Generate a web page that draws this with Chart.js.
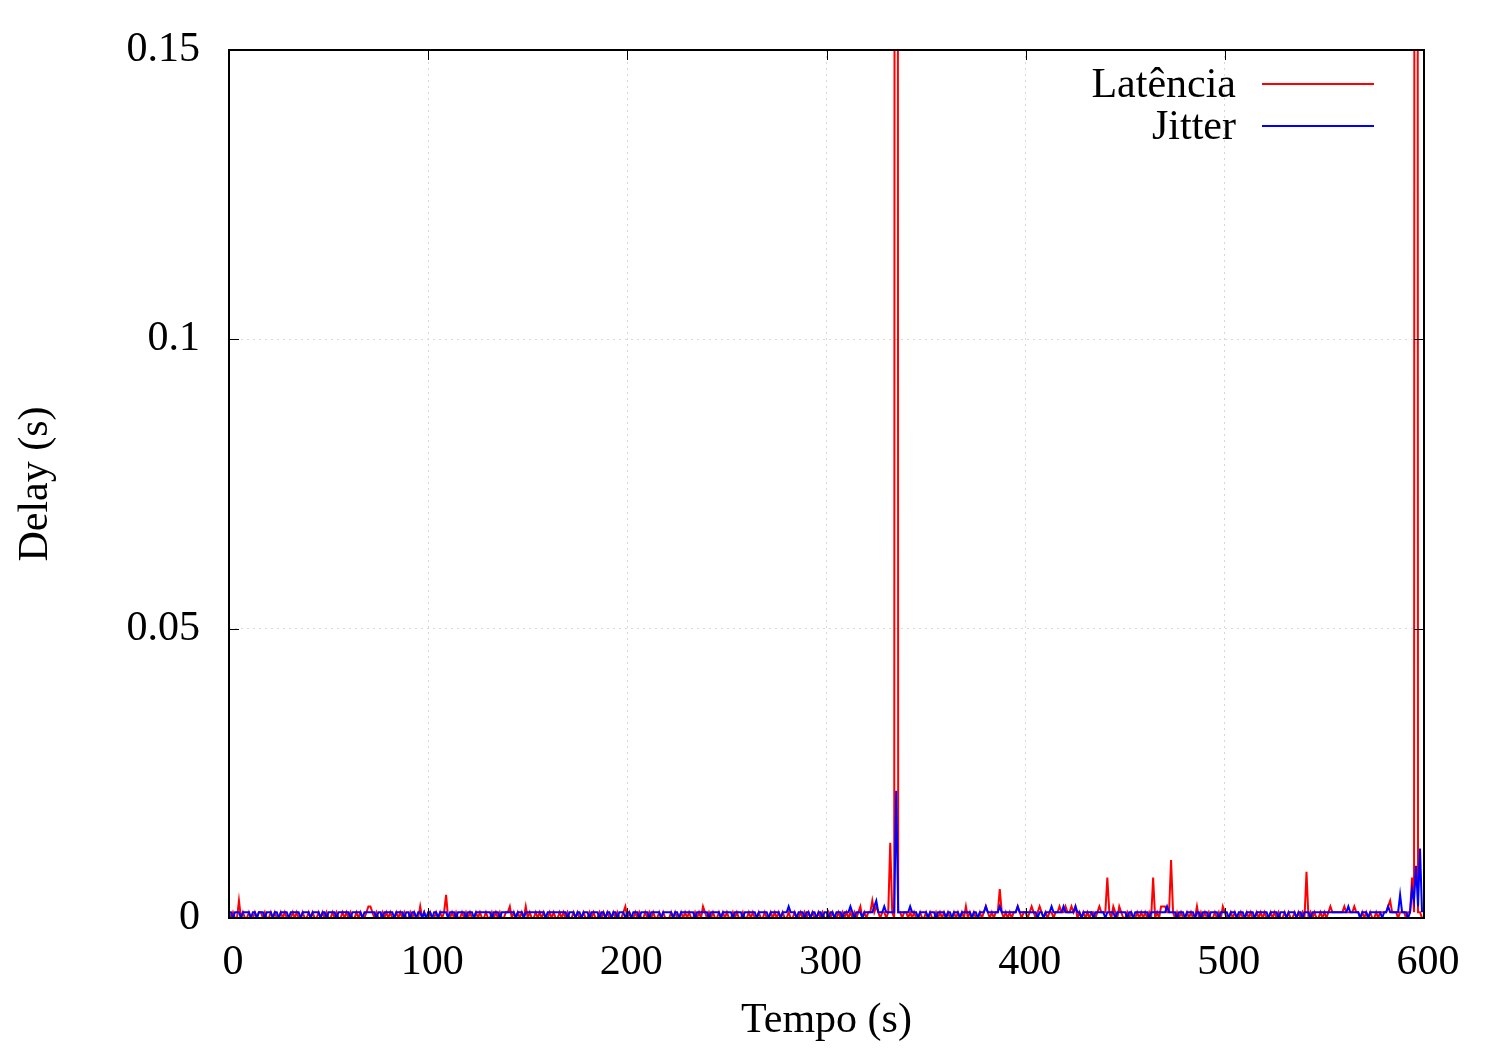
<!DOCTYPE html>
<html>
<head>
<meta charset="utf-8">
<script src="https://cdn.jsdelivr.net/npm/chart.js@4/dist/chart.umd.min.js"></script>
<style>
  html, body { margin: 0; padding: 0; background: #fff; }
  canvas { display: block; }
</style>
</head>
<body>
<canvas id="delay-chart" width="1500" height="1050"></canvas>
<script>
/**
 * Data (values in ms, one sample per second, blocks of 100 s)
 */
const latencia000 = [
    1,0,1,0,0,3,0,1,0,0, 1,0,0,1,0,1,1,0,1,0, 0,1,0,1,0,0,1,0,1,0, 0,0,1,0,1,0,0,1,0,0,
    1,0,1,0,0,1,0,1,0,1, 0,0,1,0,1,0,0,1,0,1, 0,1,0,0,1,0,1,0,0,1, 2,2,1,0,1,0,0,1,0,1,
    0,1,0,0,1,0,1,0,1,0, 0,1,0,1,0,0,2,0,1,0
];
const latencia100 = [
    0,1,0,0,1,0,1,0,1,4, 0,0,1,0,1,0,0,1,0,1, 0,1,0,0,1,0,1,0,0,1, 0,0,1,0,1,0,1,0,0,1,
    1,2,0,1,0,1,0,1,0,2, 0,1,0,0,1,0,1,0,1,0, 0,1,0,1,0,0,1,0,1,0, 1,0,0,1,0,1,0,0,1,0,
    0,1,0,1,0,0,1,0,1,0, 1,0,0,1,0,1,0,0,1,2
];
const latencia200 = [
    0,1,0,0,1,0,1,0,0,1, 0,1,0,1,0,0,1,0,1,0, 0,0,1,0,1,0,0,1,0,1, 0,1,0,0,1,0,1,0,2,1,
    0,1,0,1,0,0,1,0,1,0, 1,0,0,1,0,1,0,0,1,0, 0,1,0,1,0,0,1,0,0,1, 0,0,1,0,1,0,1,0,1,0,
    0,1,0,0,1,0,0,1,0,1, 0,1,0,1,0,0,1,0,1,0
];
const latencia300 = [
    0,1,0,1,0,0,1,0,1,0, 1,0,1,0,1,0,1,2,0,1, 0,1,1,3,1,2,1,0,1,1, 0,1,13,1,0,1000,1,1,0,1,
    1,0,1,0,1,0,0,1,0,0, 1,0,1,0,0,1,0,1,0,1, 0,1,0,0,1,0,1,0,1,0, 2,0,1,0,1,0,0,1,0,1,
    2,1,0,1,0,1,1,5,1,0, 1,0,1,0,1,1,2,1,0,1
];
const latencia400 = [
    1,0,1,2,1,0,1,2,1,0, 1,0,1,1,0,1,1,2,1,1, 2,1,1,2,1,2,0,1,0,1, 0,1,0,1,1,0,1,2,1,1,
    1,7,1,0,2,1,0,2,1,0, 0,1,0,1,0,0,1,0,1,0, 1,0,1,0,7,0,1,0,2,2, 2,1,1,10,1,0,1,0,1,0,
    0,1,0,1,0,0,2,0,1,0, 1,0,1,0,0,1,0,1,0,2
];
const latencia500 = [
    1,0,0,1,0,1,0,0,1,0, 0,1,0,1,0,0,1,0,1,0, 1,0,0,1,0,1,0,1,0,0, 1,0,1,0,0,1,0,1,0,1,
    0,8,0,1,0,1,0,0,1,0, 1,0,1,2,1,1,1,1,1,1, 2,1,1,1,1,2,1,1,0,1, 0,1,0,1,0,0,1,0,1,1,
    1,1,2,3,1,1,1,0,1,1, 1,0,1,1,7,1,1000,1,1,0
];

const jitter000 = [
    1,1,0,1,1,1,0,1,1,1, 1,0,1,1,0,1,1,1,0,1, 1,1,0,1,1,0,1,1,1,1, 0,1,1,1,1,1,0,1,1,1,
    1,0,1,1,1,1,0,1,1,0, 1,1,1,1,0,1,1,1,1,1, 1,0,1,1,1,1,1,0,1,1, 1,1,1,1,0,1,1,0,1,1,
    1,1,1,0,1,1,1,1,0,1, 1,0,1,1,0,1,1,0,1,0
];
const jitter100 = [
    1,1,0,1,1,0,1,1,1,1, 0,1,1,1,0,1,1,1,1,0, 1,1,1,0,1,1,1,1,1,1, 1,1,0,1,1,1,0,1,1,1,
    1,1,1,1,0,1,1,1,0,1, 1,1,1,1,1,1,1,1,1,0, 1,1,1,1,1,1,1,1,1,1, 0,1,1,1,0,1,1,0,1,1,
    1,0,1,1,1,1,0,1,1,0, 1,1,0,1,1,0,1,1,1,0
];
const jitter200 = [
    1,1,0,1,1,1,0,1,1,1, 1,0,1,1,1,1,1,0,1,1, 1,1,1,0,1,1,0,1,1,1, 1,1,1,1,0,1,1,1,1,1,
    1,0,1,1,1,1,1,0,1,1, 1,1,1,0,1,1,1,1,0,1, 1,1,1,1,1,0,1,1,1,1, 1,0,1,1,1,1,1,0,1,1,
    1,2,1,1,1,0,1,1,1,0, 1,1,0,1,1,0,1,1,0,1
];
const jitter300 = [
    1,0,1,1,0,1,1,1,0,1, 1,1,2,1,0,1,1,1,0,1, 1,1,1,1,2,3,1,1,1,2, 1,1,1,1,1,22,1,1,1,1,
    1,1,2,1,1,1,0,1,1,1, 1,0,1,1,1,0,1,1,1,1, 0,1,1,0,1,1,1,0,1,1, 1,1,1,0,1,1,0,1,1,1,
    2,1,1,1,1,1,1,2,1,1, 1,1,1,1,1,1,2,1,1,1
];
const jitter400 = [
    1,1,1,1,1,1,0,1,1,0, 1,1,1,2,1,1,1,1,1,2, 1,1,1,1,1,2,1,1,0,1, 1,1,1,1,0,1,1,1,1,1,
    0,1,1,1,1,0,1,1,1,1, 1,0,1,1,0,1,1,1,1,1, 1,1,0,1,1,1,1,1,1,1, 1,2,1,1,1,1,0,1,1,1,
    0,1,1,1,1,0,1,1,0,1, 1,1,0,1,1,1,1,0,1,1
];
const jitter500 = [
    1,1,0,1,1,1,0,1,1,1, 0,1,1,1,1,0,1,1,1,1, 1,1,0,1,1,1,1,0,1,1, 1,0,1,1,1,1,0,1,1,0,
    1,1,1,0,1,1,1,1,1,1, 1,1,1,1,1,1,1,1,1,1, 1,1,2,1,1,1,1,1,0,1, 1,1,0,1,1,1,1,1,1,0,
    1,1,2,1,1,1,1,1,4,1, 1,1,0,1,5,3,9,2,12,1
];

const latenciaBlocks = [latencia000, latencia100, latencia200, latencia300, latencia400, latencia500];
const jitterBlocks = [jitter000, jitter100, jitter200, jitter300, jitter400, jitter500];

const xTicks = [0, 100, 200, 300, 400, 500, 600];
const xTickLabels = ["0", "100", "200", "300", "400", "500", "600"];
const yTicks = [0, 0.05, 0.1, 0.15];
const yTickLabels = ["0", "0.05", "0.1", "0.15"];

const FONT_FAMILY = '"Liberation Serif", "DejaVu Serif", serif';
const FONT_SIZE = 42;

function toPoints(blocks) {
    const points = [];
    blocks.forEach((block, b) => {
        block.forEach((ms, i) => {
            points.push({x: b * 100 + i, y: ms / 1000});
        });
    });
    return points;
}

/**
 * Frame, inward ticks and key (gnuplot style)
 */
const framePlugin = {
    id: 'frame',
    afterDraw(chart) {
        const {ctx, chartArea: a, scales: {x, y}} = chart;
        ctx.save();

        ctx.strokeStyle = '#000';
        ctx.lineWidth = 1;
        ctx.beginPath();
        for (const v of xTicks) {
            const px = Math.round(x.getPixelForValue(v)) + 0.5;
            ctx.moveTo(px, a.bottom); ctx.lineTo(px, a.bottom - 10);
            ctx.moveTo(px, a.top); ctx.lineTo(px, a.top + 10);
        }
        for (const v of yTicks) {
            const py = Math.round(y.getPixelForValue(v)) + 0.5;
            ctx.moveTo(a.left, py); ctx.lineTo(a.left + 10, py);
            ctx.moveTo(a.right, py); ctx.lineTo(a.right - 10, py);
        }
        ctx.stroke();

        ctx.lineWidth = 2;
        ctx.strokeRect(a.left, a.top, a.right - a.left, a.bottom - a.top);

        // key
        ctx.font = FONT_SIZE + 'px ' + FONT_FAMILY;
        ctx.textAlign = 'right';
        ctx.textBaseline = 'middle';
        chart.data.datasets.forEach((ds, i) => {
            const rowY = 84 + i * 42;
            ctx.fillStyle = '#000';
            ctx.fillText(ds.label, 1236, rowY + 2);
            ctx.strokeStyle = ds.borderColor;
            ctx.lineWidth = 2;
            ctx.beginPath();
            ctx.moveTo(1262, rowY);
            ctx.lineTo(1374, rowY);
            ctx.stroke();
        });

        ctx.restore();
    }
};

Chart.defaults.color = '#000';
Chart.defaults.font.family = FONT_FAMILY;
Chart.defaults.font.size = FONT_SIZE;

const delayChart = new Chart(document.getElementById('delay-chart'), {
    type: 'line',
    data: {
        datasets: [
            {
                label: 'Latência',
                data: toPoints(latenciaBlocks),
                borderColor: '#ff0000',
                borderWidth: 2,
                order: 2
            },
            {
                label: 'Jitter',
                data: toPoints(jitterBlocks),
                borderColor: '#0000ff',
                borderWidth: 2,
                order: 1
            }
        ]
    },
    options: {
        responsive: false,
        animation: false,
        parsing: false,
        layout: {
            padding: {top: 50, right: 76, left: 0, bottom: 0}
        },
        elements: {
            point: {radius: 0},
            line: {tension: 0, fill: false}
        },
        plugins: {
            legend: {display: false},
            tooltip: {enabled: false}
        },
        scales: {
            x: {
                type: 'linear',
                min: 0,
                max: 600,
                afterBuildTicks: (scale) => { scale.ticks = xTicks.map(v => ({value: v})); },
                afterFit: (scale) => {
                    scale.height = 132;
                    scale.paddingLeft = 0;
                    scale.paddingRight = 0;
                },
                ticks: {
                    padding: 20,
                    labelOffset: 4,
                    maxRotation: 0,
                    callback: (value, index) => xTickLabels[index]
                },
                grid: {
                    color: '#d8d8d8',
                    lineWidth: 1,
                    drawTicks: false
                },
                border: {display: false, dash: [2, 4]},
                title: {
                    display: true,
                    text: 'Tempo (s)',
                    padding: {top: 0, bottom: 4}
                }
            },
            y: {
                type: 'linear',
                min: 0,
                max: 0.15,
                afterBuildTicks: (scale) => { scale.ticks = yTicks.map(v => ({value: v})); },
                afterFit: (scale) => {
                    scale.width = 229;
                    scale.paddingTop = 0;
                    scale.paddingBottom = 0;
                },
                ticks: {
                    padding: 29,
                    callback: (value, index) => yTickLabels[index]
                },
                grid: {
                    color: '#d8d8d8',
                    lineWidth: 1,
                    drawTicks: false
                },
                border: {display: false, dash: [2, 4]},
                title: {
                    display: true,
                    text: 'Delay (s)',
                    padding: {top: 11, bottom: 0}
                }
            }
        }
    },
    plugins: [framePlugin]
});
</script>
</body>
</html>
